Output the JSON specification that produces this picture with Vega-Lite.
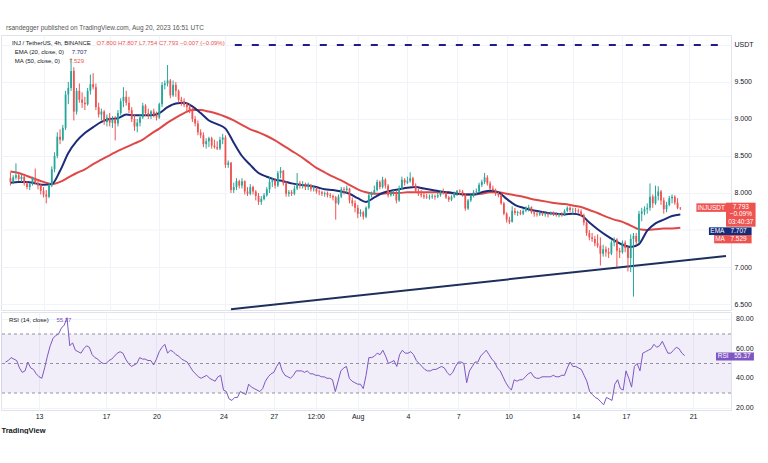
{
"$schema":"https://vega.github.io/schema/vega-lite/v6.json",
"background":"white",
"padding":{"top":25,"left":0,"right":0,"bottom":0},
"title":{"text":"rsandegger published on TradingView.com, Aug 20, 2023 16:51 UTC","anchor":"start","fontSize":6.5,"fontWeight":"normal","color":"#555555","offset":3,"dx":6,"font":"Liberation Sans"},
"config":{"view":{"stroke":"#e0e3eb"},"font":"Liberation Sans","concat":{"spacing":0},
"axis":{"domain":false,"ticks":false,"grid":true,"gridColor":"#f0f3fa","labelFont":"Liberation Sans","labelFontSize":7,"labelColor":"#131722","labelPadding":4,"labelOverlap":false,"labelFlush":false,"labelBound":false}},
"datasets":{
"candles":[
{"t":"2023-07-11T00:00","o":8.20,"h":8.28,"l":8.10,"c":8.15,"r":51},
{"t":"2023-07-11T04:00","o":8.15,"h":8.24,"l":8.12,"c":8.21,"r":52},
{"t":"2023-07-11T08:00","o":8.21,"h":8.40,"l":8.18,"c":8.24,"r":54},
{"t":"2023-07-11T12:00","o":8.24,"h":8.27,"l":8.16,"c":8.19,"r":53},
{"t":"2023-07-11T16:00","o":8.19,"h":8.25,"l":8.15,"c":8.22,"r":52},
{"t":"2023-07-11T20:00","o":8.22,"h":8.24,"l":8.10,"c":8.13,"r":47},
{"t":"2023-07-12T00:00","o":8.13,"h":8.16,"l":8.05,"c":8.08,"r":44},
{"t":"2023-07-12T04:00","o":8.08,"h":8.14,"l":8.04,"c":8.12,"r":45},
{"t":"2023-07-12T08:00","o":8.12,"h":8.22,"l":8.10,"c":8.20,"r":51},
{"t":"2023-07-12T12:00","o":8.20,"h":8.33,"l":8.12,"c":8.14,"r":47},
{"t":"2023-07-12T16:00","o":8.14,"h":8.18,"l":8.05,"c":8.10,"r":46},
{"t":"2023-07-12T20:00","o":8.10,"h":8.12,"l":7.98,"c":8.03,"r":43},
{"t":"2023-07-13T00:00","o":8.03,"h":8.08,"l":7.94,"c":7.98,"r":41},
{"t":"2023-07-13T04:00","o":7.98,"h":8.04,"l":7.86,"c":7.95,"r":40},
{"t":"2023-07-13T08:00","o":7.95,"h":8.14,"l":7.93,"c":8.10,"r":47},
{"t":"2023-07-13T12:00","o":8.10,"h":8.36,"l":8.08,"c":8.32,"r":55},
{"t":"2023-07-13T16:00","o":8.32,"h":8.55,"l":8.28,"c":8.50,"r":62},
{"t":"2023-07-13T20:00","o":8.50,"h":8.82,"l":8.47,"c":8.76,"r":67},
{"t":"2023-07-14T00:00","o":8.76,"h":8.86,"l":8.66,"c":8.72,"r":69},
{"t":"2023-07-14T04:00","o":8.72,"h":8.92,"l":8.70,"c":8.88,"r":70},
{"t":"2023-07-14T08:00","o":8.88,"h":9.38,"l":8.85,"c":9.33,"r":74},
{"t":"2023-07-14T12:00","o":9.33,"h":9.50,"l":9.20,"c":9.42,"r":76},
{"t":"2023-07-14T16:00","o":9.42,"h":9.82,"l":9.38,"c":9.65,"r":81},
{"t":"2023-07-14T20:00","o":9.65,"h":9.70,"l":8.98,"c":9.10,"r":62},
{"t":"2023-07-15T00:00","o":9.10,"h":9.42,"l":9.06,"c":9.38,"r":64},
{"t":"2023-07-15T04:00","o":9.38,"h":9.48,"l":9.22,"c":9.26,"r":59},
{"t":"2023-07-15T08:00","o":9.26,"h":9.36,"l":9.15,"c":9.22,"r":58},
{"t":"2023-07-15T12:00","o":9.22,"h":9.30,"l":9.12,"c":9.20,"r":57},
{"t":"2023-07-15T16:00","o":9.20,"h":9.42,"l":9.18,"c":9.38,"r":60},
{"t":"2023-07-15T20:00","o":9.38,"h":9.60,"l":9.33,"c":9.47,"r":62},
{"t":"2023-07-16T00:00","o":9.47,"h":9.62,"l":9.40,"c":9.43,"r":61},
{"t":"2023-07-16T04:00","o":9.43,"h":9.48,"l":9.12,"c":9.16,"r":56},
{"t":"2023-07-16T08:00","o":9.16,"h":9.22,"l":9.02,"c":9.06,"r":54},
{"t":"2023-07-16T12:00","o":9.06,"h":9.14,"l":8.98,"c":9.10,"r":53},
{"t":"2023-07-16T16:00","o":9.10,"h":9.12,"l":8.92,"c":8.96,"r":51},
{"t":"2023-07-16T20:00","o":8.96,"h":9.06,"l":8.90,"c":9.02,"r":50},
{"t":"2023-07-17T00:00","o":9.02,"h":9.08,"l":8.90,"c":8.95,"r":50},
{"t":"2023-07-17T04:00","o":8.95,"h":9.04,"l":8.88,"c":9.00,"r":52},
{"t":"2023-07-17T08:00","o":9.00,"h":9.04,"l":8.71,"c":8.94,"r":53},
{"t":"2023-07-17T12:00","o":8.94,"h":9.12,"l":8.90,"c":9.08,"r":55},
{"t":"2023-07-17T16:00","o":9.08,"h":9.28,"l":9.05,"c":9.24,"r":57},
{"t":"2023-07-17T20:00","o":9.24,"h":9.43,"l":9.16,"c":9.30,"r":58},
{"t":"2023-07-18T00:00","o":9.30,"h":9.38,"l":9.18,"c":9.22,"r":57},
{"t":"2023-07-18T04:00","o":9.22,"h":9.30,"l":9.08,"c":9.12,"r":53},
{"t":"2023-07-18T08:00","o":9.12,"h":9.16,"l":8.96,"c":9.00,"r":50},
{"t":"2023-07-18T12:00","o":9.00,"h":9.06,"l":8.84,"c":8.90,"r":48},
{"t":"2023-07-18T16:00","o":8.90,"h":9.00,"l":8.82,"c":8.95,"r":49},
{"t":"2023-07-18T20:00","o":8.95,"h":9.06,"l":8.90,"c":9.02,"r":50},
{"t":"2023-07-19T00:00","o":9.02,"h":9.22,"l":9.00,"c":9.18,"r":54},
{"t":"2023-07-19T04:00","o":9.18,"h":9.20,"l":9.04,"c":9.08,"r":53},
{"t":"2023-07-19T08:00","o":9.08,"h":9.14,"l":9.00,"c":9.05,"r":53},
{"t":"2023-07-19T12:00","o":9.05,"h":9.12,"l":9.00,"c":9.10,"r":52},
{"t":"2023-07-19T16:00","o":9.10,"h":9.14,"l":9.02,"c":9.06,"r":52},
{"t":"2023-07-19T20:00","o":9.06,"h":9.10,"l":8.98,"c":9.02,"r":49},
{"t":"2023-07-20T00:00","o":9.02,"h":9.22,"l":9.00,"c":9.20,"r":53},
{"t":"2023-07-20T04:00","o":9.20,"h":9.50,"l":9.16,"c":9.46,"r":58},
{"t":"2023-07-20T08:00","o":9.46,"h":9.52,"l":9.40,"c":9.48,"r":61},
{"t":"2023-07-20T12:00","o":9.48,"h":9.73,"l":9.44,"c":9.52,"r":63},
{"t":"2023-07-20T16:00","o":9.52,"h":9.54,"l":9.28,"c":9.32,"r":57},
{"t":"2023-07-20T20:00","o":9.32,"h":9.52,"l":9.30,"c":9.46,"r":59},
{"t":"2023-07-21T00:00","o":9.46,"h":9.50,"l":9.30,"c":9.38,"r":58},
{"t":"2023-07-21T04:00","o":9.38,"h":9.40,"l":9.22,"c":9.26,"r":56},
{"t":"2023-07-21T08:00","o":9.26,"h":9.30,"l":9.18,"c":9.24,"r":55},
{"t":"2023-07-21T12:00","o":9.24,"h":9.28,"l":9.16,"c":9.19,"r":53},
{"t":"2023-07-21T16:00","o":9.19,"h":9.22,"l":9.10,"c":9.16,"r":52},
{"t":"2023-07-21T20:00","o":9.16,"h":9.20,"l":9.08,"c":9.12,"r":51},
{"t":"2023-07-22T00:00","o":9.12,"h":9.16,"l":8.96,"c":9.00,"r":48},
{"t":"2023-07-22T04:00","o":9.00,"h":9.04,"l":8.90,"c":8.94,"r":45},
{"t":"2023-07-22T08:00","o":8.94,"h":8.98,"l":8.78,"c":8.82,"r":43},
{"t":"2023-07-22T12:00","o":8.82,"h":8.86,"l":8.74,"c":8.78,"r":41},
{"t":"2023-07-22T16:00","o":8.78,"h":8.82,"l":8.62,"c":8.66,"r":40},
{"t":"2023-07-22T20:00","o":8.66,"h":8.74,"l":8.60,"c":8.70,"r":41},
{"t":"2023-07-23T00:00","o":8.70,"h":8.76,"l":8.62,"c":8.74,"r":42},
{"t":"2023-07-23T04:00","o":8.74,"h":8.76,"l":8.60,"c":8.64,"r":40},
{"t":"2023-07-23T08:00","o":8.64,"h":8.72,"l":8.60,"c":8.62,"r":39},
{"t":"2023-07-23T12:00","o":8.62,"h":8.70,"l":8.58,"c":8.60,"r":38},
{"t":"2023-07-23T16:00","o":8.60,"h":8.76,"l":8.58,"c":8.72,"r":41},
{"t":"2023-07-23T20:00","o":8.72,"h":8.80,"l":8.66,"c":8.75,"r":42},
{"t":"2023-07-24T00:00","o":8.75,"h":8.78,"l":8.34,"c":8.38,"r":32},
{"t":"2023-07-24T04:00","o":8.38,"h":8.44,"l":8.34,"c":8.41,"r":31},
{"t":"2023-07-24T08:00","o":8.41,"h":8.42,"l":8.00,"c":8.04,"r":26},
{"t":"2023-07-24T12:00","o":8.04,"h":8.14,"l":8.00,"c":8.08,"r":25},
{"t":"2023-07-24T16:00","o":8.08,"h":8.20,"l":8.04,"c":8.16,"r":27},
{"t":"2023-07-24T20:00","o":8.16,"h":8.18,"l":8.06,"c":8.10,"r":27},
{"t":"2023-07-25T00:00","o":8.10,"h":8.20,"l":8.06,"c":8.16,"r":31},
{"t":"2023-07-25T04:00","o":8.16,"h":8.17,"l":7.98,"c":8.02,"r":30},
{"t":"2023-07-25T08:00","o":8.02,"h":8.08,"l":7.96,"c":7.99,"r":29},
{"t":"2023-07-25T12:00","o":7.99,"h":8.12,"l":7.97,"c":8.08,"r":36},
{"t":"2023-07-25T16:00","o":8.08,"h":8.10,"l":7.98,"c":8.02,"r":34},
{"t":"2023-07-25T20:00","o":8.02,"h":8.04,"l":7.90,"c":7.96,"r":33},
{"t":"2023-07-26T00:00","o":7.96,"h":8.00,"l":7.84,"c":7.88,"r":32},
{"t":"2023-07-26T04:00","o":7.88,"h":7.96,"l":7.84,"c":7.92,"r":31},
{"t":"2023-07-26T08:00","o":7.92,"h":8.00,"l":7.90,"c":7.97,"r":33},
{"t":"2023-07-26T12:00","o":7.97,"h":8.08,"l":7.95,"c":8.05,"r":38},
{"t":"2023-07-26T16:00","o":8.05,"h":8.22,"l":8.00,"c":8.15,"r":41},
{"t":"2023-07-26T20:00","o":8.15,"h":8.20,"l":8.08,"c":8.17,"r":43},
{"t":"2023-07-27T00:00","o":8.17,"h":8.20,"l":8.06,"c":8.10,"r":44},
{"t":"2023-07-27T04:00","o":8.10,"h":8.30,"l":8.08,"c":8.27,"r":48},
{"t":"2023-07-27T08:00","o":8.27,"h":8.35,"l":8.20,"c":8.30,"r":51},
{"t":"2023-07-27T12:00","o":8.30,"h":8.31,"l":8.10,"c":8.13,"r":45},
{"t":"2023-07-27T16:00","o":8.13,"h":8.16,"l":7.95,"c":7.99,"r":42},
{"t":"2023-07-27T20:00","o":7.99,"h":8.04,"l":7.95,"c":8.01,"r":41},
{"t":"2023-07-28T00:00","o":8.01,"h":8.04,"l":7.96,"c":7.99,"r":40},
{"t":"2023-07-28T04:00","o":7.99,"h":8.10,"l":7.97,"c":8.06,"r":42},
{"t":"2023-07-28T08:00","o":8.06,"h":8.27,"l":8.04,"c":8.13,"r":45},
{"t":"2023-07-28T12:00","o":8.13,"h":8.16,"l":8.06,"c":8.10,"r":45},
{"t":"2023-07-28T16:00","o":8.10,"h":8.16,"l":8.06,"c":8.12,"r":45},
{"t":"2023-07-28T20:00","o":8.12,"h":8.14,"l":8.04,"c":8.08,"r":44},
{"t":"2023-07-29T00:00","o":8.08,"h":8.14,"l":8.04,"c":8.11,"r":45},
{"t":"2023-07-29T04:00","o":8.11,"h":8.12,"l":8.02,"c":8.05,"r":43},
{"t":"2023-07-29T08:00","o":8.05,"h":8.10,"l":8.02,"c":8.06,"r":43},
{"t":"2023-07-29T12:00","o":8.06,"h":8.08,"l":7.99,"c":8.02,"r":42},
{"t":"2023-07-29T16:00","o":8.02,"h":8.05,"l":7.97,"c":8.01,"r":42},
{"t":"2023-07-29T20:00","o":8.01,"h":8.03,"l":7.96,"c":7.99,"r":41},
{"t":"2023-07-30T00:00","o":7.99,"h":8.02,"l":7.95,"c":8.00,"r":41},
{"t":"2023-07-30T04:00","o":8.00,"h":8.02,"l":7.94,"c":7.97,"r":40},
{"t":"2023-07-30T08:00","o":7.97,"h":8.00,"l":7.93,"c":7.96,"r":40},
{"t":"2023-07-30T12:00","o":7.96,"h":7.98,"l":7.90,"c":7.94,"r":39},
{"t":"2023-07-30T16:00","o":7.94,"h":7.96,"l":7.64,"c":7.86,"r":31},
{"t":"2023-07-30T20:00","o":7.86,"h":7.98,"l":7.84,"c":7.95,"r":38},
{"t":"2023-07-31T00:00","o":7.95,"h":8.08,"l":7.93,"c":8.05,"r":45},
{"t":"2023-07-31T04:00","o":8.05,"h":8.08,"l":7.98,"c":8.04,"r":47},
{"t":"2023-07-31T08:00","o":8.04,"h":8.10,"l":8.00,"c":8.06,"r":48},
{"t":"2023-07-31T12:00","o":8.06,"h":8.07,"l":7.86,"c":7.90,"r":40},
{"t":"2023-07-31T16:00","o":7.90,"h":7.94,"l":7.82,"c":7.86,"r":38},
{"t":"2023-07-31T20:00","o":7.86,"h":7.90,"l":7.74,"c":7.80,"r":37},
{"t":"2023-08-01T00:00","o":7.80,"h":7.84,"l":7.66,"c":7.72,"r":36},
{"t":"2023-08-01T04:00","o":7.72,"h":7.78,"l":7.68,"c":7.74,"r":36},
{"t":"2023-08-01T08:00","o":7.74,"h":7.76,"l":7.64,"c":7.68,"r":33},
{"t":"2023-08-01T12:00","o":7.68,"h":7.82,"l":7.66,"c":7.80,"r":42},
{"t":"2023-08-01T16:00","o":7.80,"h":8.00,"l":7.78,"c":7.97,"r":54},
{"t":"2023-08-01T20:00","o":7.97,"h":8.02,"l":7.94,"c":8.00,"r":54},
{"t":"2023-08-02T00:00","o":8.00,"h":8.10,"l":7.98,"c":8.04,"r":55},
{"t":"2023-08-02T04:00","o":8.04,"h":8.18,"l":8.02,"c":8.15,"r":57},
{"t":"2023-08-02T08:00","o":8.15,"h":8.17,"l":8.05,"c":8.08,"r":56},
{"t":"2023-08-02T12:00","o":8.08,"h":8.22,"l":8.06,"c":8.18,"r":59},
{"t":"2023-08-02T16:00","o":8.18,"h":8.20,"l":8.06,"c":8.10,"r":55},
{"t":"2023-08-02T20:00","o":8.10,"h":8.12,"l":7.94,"c":7.97,"r":50},
{"t":"2023-08-03T00:00","o":7.97,"h":8.02,"l":7.95,"c":8.00,"r":51},
{"t":"2023-08-03T04:00","o":8.00,"h":8.04,"l":7.96,"c":8.01,"r":52},
{"t":"2023-08-03T08:00","o":8.01,"h":8.03,"l":7.86,"c":7.90,"r":48},
{"t":"2023-08-03T12:00","o":7.90,"h":8.10,"l":7.88,"c":8.06,"r":56},
{"t":"2023-08-03T16:00","o":8.06,"h":8.22,"l":8.04,"c":8.18,"r":59},
{"t":"2023-08-03T20:00","o":8.18,"h":8.20,"l":8.10,"c":8.14,"r":57},
{"t":"2023-08-04T00:00","o":8.14,"h":8.22,"l":8.12,"c":8.16,"r":57},
{"t":"2023-08-04T04:00","o":8.16,"h":8.28,"l":8.14,"c":8.20,"r":58},
{"t":"2023-08-04T08:00","o":8.20,"h":8.22,"l":8.08,"c":8.10,"r":56},
{"t":"2023-08-04T12:00","o":8.10,"h":8.13,"l":8.00,"c":8.03,"r":52},
{"t":"2023-08-04T16:00","o":8.03,"h":8.06,"l":7.96,"c":7.99,"r":50},
{"t":"2023-08-04T20:00","o":7.99,"h":8.04,"l":7.94,"c":7.97,"r":48},
{"t":"2023-08-05T00:00","o":7.97,"h":8.00,"l":7.92,"c":7.95,"r":46},
{"t":"2023-08-05T04:00","o":7.95,"h":7.99,"l":7.92,"c":7.94,"r":45},
{"t":"2023-08-05T08:00","o":7.94,"h":7.98,"l":7.91,"c":7.95,"r":45},
{"t":"2023-08-05T12:00","o":7.95,"h":7.99,"l":7.92,"c":7.96,"r":46},
{"t":"2023-08-05T16:00","o":7.96,"h":7.98,"l":7.91,"c":7.95,"r":46},
{"t":"2023-08-05T20:00","o":7.95,"h":8.00,"l":7.93,"c":7.97,"r":47},
{"t":"2023-08-06T00:00","o":7.97,"h":8.04,"l":7.95,"c":8.01,"r":48},
{"t":"2023-08-06T04:00","o":8.01,"h":8.06,"l":7.98,"c":8.00,"r":47},
{"t":"2023-08-06T08:00","o":8.00,"h":8.02,"l":7.92,"c":7.94,"r":44},
{"t":"2023-08-06T12:00","o":7.94,"h":7.96,"l":7.88,"c":7.91,"r":42},
{"t":"2023-08-06T16:00","o":7.91,"h":7.97,"l":7.89,"c":7.95,"r":44},
{"t":"2023-08-06T20:00","o":7.95,"h":8.02,"l":7.93,"c":8.00,"r":48},
{"t":"2023-08-07T00:00","o":8.00,"h":8.04,"l":7.96,"c":8.03,"r":51},
{"t":"2023-08-07T04:00","o":8.03,"h":8.05,"l":7.97,"c":8.02,"r":51},
{"t":"2023-08-07T08:00","o":8.02,"h":8.04,"l":7.95,"c":7.98,"r":50},
{"t":"2023-08-07T12:00","o":7.98,"h":8.00,"l":7.76,"c":7.79,"r":37},
{"t":"2023-08-07T16:00","o":7.79,"h":7.92,"l":7.77,"c":7.90,"r":45},
{"t":"2023-08-07T20:00","o":7.90,"h":7.98,"l":7.88,"c":7.96,"r":48},
{"t":"2023-08-08T00:00","o":7.96,"h":8.04,"l":7.94,"c":8.01,"r":51},
{"t":"2023-08-08T04:00","o":8.01,"h":8.06,"l":7.98,"c":8.02,"r":51},
{"t":"2023-08-08T08:00","o":8.02,"h":8.14,"l":8.00,"c":8.11,"r":55},
{"t":"2023-08-08T12:00","o":8.11,"h":8.18,"l":8.08,"c":8.15,"r":57},
{"t":"2023-08-08T16:00","o":8.15,"h":8.27,"l":8.12,"c":8.21,"r":59},
{"t":"2023-08-08T20:00","o":8.21,"h":8.24,"l":8.10,"c":8.13,"r":56},
{"t":"2023-08-09T00:00","o":8.13,"h":8.16,"l":8.04,"c":8.06,"r":53},
{"t":"2023-08-09T04:00","o":8.06,"h":8.10,"l":8.02,"c":8.04,"r":51},
{"t":"2023-08-09T08:00","o":8.04,"h":8.06,"l":7.96,"c":7.99,"r":47},
{"t":"2023-08-09T12:00","o":7.99,"h":8.02,"l":7.94,"c":7.97,"r":45},
{"t":"2023-08-09T16:00","o":7.97,"h":7.99,"l":7.84,"c":7.86,"r":41},
{"t":"2023-08-09T20:00","o":7.86,"h":7.88,"l":7.70,"c":7.72,"r":37},
{"t":"2023-08-10T00:00","o":7.72,"h":7.74,"l":7.60,"c":7.64,"r":34},
{"t":"2023-08-10T04:00","o":7.64,"h":7.68,"l":7.58,"c":7.61,"r":32},
{"t":"2023-08-10T08:00","o":7.61,"h":7.82,"l":7.60,"c":7.76,"r":39},
{"t":"2023-08-10T12:00","o":7.76,"h":7.80,"l":7.70,"c":7.73,"r":38},
{"t":"2023-08-10T16:00","o":7.73,"h":7.76,"l":7.69,"c":7.74,"r":39},
{"t":"2023-08-10T20:00","o":7.74,"h":7.77,"l":7.70,"c":7.72,"r":39},
{"t":"2023-08-11T00:00","o":7.72,"h":7.78,"l":7.70,"c":7.76,"r":41},
{"t":"2023-08-11T04:00","o":7.76,"h":7.82,"l":7.74,"c":7.80,"r":43},
{"t":"2023-08-11T08:00","o":7.80,"h":7.84,"l":7.75,"c":7.81,"r":44},
{"t":"2023-08-11T12:00","o":7.81,"h":7.82,"l":7.72,"c":7.74,"r":41},
{"t":"2023-08-11T16:00","o":7.74,"h":7.76,"l":7.68,"c":7.72,"r":40},
{"t":"2023-08-11T20:00","o":7.72,"h":7.75,"l":7.68,"c":7.71,"r":40},
{"t":"2023-08-12T00:00","o":7.71,"h":7.75,"l":7.69,"c":7.73,"r":41},
{"t":"2023-08-12T04:00","o":7.73,"h":7.75,"l":7.69,"c":7.71,"r":41},
{"t":"2023-08-12T08:00","o":7.71,"h":7.74,"l":7.68,"c":7.72,"r":41},
{"t":"2023-08-12T12:00","o":7.72,"h":7.74,"l":7.67,"c":7.71,"r":41},
{"t":"2023-08-12T16:00","o":7.71,"h":7.75,"l":7.70,"c":7.73,"r":42},
{"t":"2023-08-12T20:00","o":7.73,"h":7.75,"l":7.69,"c":7.71,"r":41},
{"t":"2023-08-13T00:00","o":7.71,"h":7.74,"l":7.68,"c":7.70,"r":41},
{"t":"2023-08-13T04:00","o":7.70,"h":7.73,"l":7.67,"c":7.72,"r":42},
{"t":"2023-08-13T08:00","o":7.72,"h":7.74,"l":7.68,"c":7.71,"r":42},
{"t":"2023-08-13T12:00","o":7.71,"h":7.78,"l":7.69,"c":7.76,"r":47},
{"t":"2023-08-13T16:00","o":7.76,"h":7.82,"l":7.74,"c":7.80,"r":51},
{"t":"2023-08-13T20:00","o":7.80,"h":7.82,"l":7.74,"c":7.77,"r":48},
{"t":"2023-08-14T00:00","o":7.77,"h":7.80,"l":7.72,"c":7.77,"r":48},
{"t":"2023-08-14T04:00","o":7.77,"h":7.80,"l":7.73,"c":7.76,"r":47},
{"t":"2023-08-14T08:00","o":7.76,"h":7.79,"l":7.72,"c":7.75,"r":46},
{"t":"2023-08-14T12:00","o":7.75,"h":7.78,"l":7.68,"c":7.70,"r":42},
{"t":"2023-08-14T16:00","o":7.70,"h":7.72,"l":7.56,"c":7.60,"r":38},
{"t":"2023-08-14T20:00","o":7.60,"h":7.62,"l":7.42,"c":7.46,"r":31},
{"t":"2023-08-15T00:00","o":7.46,"h":7.50,"l":7.36,"c":7.40,"r":29},
{"t":"2023-08-15T04:00","o":7.40,"h":7.46,"l":7.34,"c":7.38,"r":27},
{"t":"2023-08-15T08:00","o":7.38,"h":7.42,"l":7.28,"c":7.32,"r":26},
{"t":"2023-08-15T12:00","o":7.32,"h":7.44,"l":7.26,"c":7.29,"r":24},
{"t":"2023-08-15T16:00","o":7.29,"h":7.40,"l":7.02,"c":7.18,"r":22},
{"t":"2023-08-15T20:00","o":7.18,"h":7.30,"l":7.14,"c":7.24,"r":27},
{"t":"2023-08-16T00:00","o":7.24,"h":7.28,"l":7.14,"c":7.20,"r":26},
{"t":"2023-08-16T04:00","o":7.20,"h":7.26,"l":7.12,"c":7.18,"r":25},
{"t":"2023-08-16T08:00","o":7.18,"h":7.36,"l":7.16,"c":7.33,"r":36},
{"t":"2023-08-16T12:00","o":7.33,"h":7.40,"l":7.28,"c":7.37,"r":39},
{"t":"2023-08-16T16:00","o":7.37,"h":7.39,"l":7.00,"c":7.22,"r":33},
{"t":"2023-08-16T20:00","o":7.22,"h":7.26,"l":7.12,"c":7.20,"r":32},
{"t":"2023-08-17T00:00","o":7.20,"h":7.36,"l":7.18,"c":7.33,"r":45},
{"t":"2023-08-17T04:00","o":7.33,"h":7.36,"l":7.20,"c":7.26,"r":40},
{"t":"2023-08-17T08:00","o":7.26,"h":7.28,"l":6.94,"c":7.12,"r":34},
{"t":"2023-08-17T12:00","o":7.12,"h":7.44,"l":6.93,"c":7.38,"r":48},
{"t":"2023-08-17T16:00","o":7.38,"h":7.46,"l":6.60,"c":7.42,"r":50},
{"t":"2023-08-17T20:00","o":7.42,"h":7.46,"l":7.30,"c":7.34,"r":45},
{"t":"2023-08-18T00:00","o":7.34,"h":7.76,"l":7.32,"c":7.72,"r":57},
{"t":"2023-08-18T04:00","o":7.72,"h":7.80,"l":7.62,"c":7.75,"r":58},
{"t":"2023-08-18T08:00","o":7.75,"h":7.82,"l":7.70,"c":7.78,"r":59},
{"t":"2023-08-18T12:00","o":7.78,"h":7.86,"l":7.72,"c":7.80,"r":60},
{"t":"2023-08-18T16:00","o":7.80,"h":8.13,"l":7.76,"c":7.95,"r":63},
{"t":"2023-08-18T20:00","o":7.95,"h":7.98,"l":7.80,"c":7.86,"r":61},
{"t":"2023-08-19T00:00","o":7.86,"h":8.10,"l":7.84,"c":7.96,"r":62},
{"t":"2023-08-19T04:00","o":7.96,"h":8.09,"l":7.90,"c":8.02,"r":65},
{"t":"2023-08-19T08:00","o":8.02,"h":8.04,"l":7.84,"c":7.90,"r":61},
{"t":"2023-08-19T12:00","o":7.90,"h":7.94,"l":7.72,"c":7.78,"r":57},
{"t":"2023-08-19T16:00","o":7.78,"h":7.88,"l":7.74,"c":7.84,"r":57},
{"t":"2023-08-19T20:00","o":7.84,"h":7.96,"l":7.82,"c":7.93,"r":59},
{"t":"2023-08-20T00:00","o":7.93,"h":7.98,"l":7.86,"c":7.95,"r":61},
{"t":"2023-08-20T04:00","o":7.95,"h":7.97,"l":7.84,"c":7.87,"r":60},
{"t":"2023-08-20T08:00","o":7.87,"h":7.93,"l":7.78,"c":7.80,"r":57},
{"t":"2023-08-20T12:00","o":7.80,"h":7.81,"l":7.77,"c":7.793,"r":55.37}
],
"ma":[
{"t":"2023-07-11T00:00","e":8.14,"s":8.29},{"t":"2023-07-11T12:00","e":8.15,"s":8.27},
{"t":"2023-07-12T00:00","e":8.15,"s":8.23},{"t":"2023-07-12T12:00","e":8.13,"s":8.19},
{"t":"2023-07-13T00:00","e":8.11,"s":8.15},{"t":"2023-07-13T12:00","e":8.12,"s":8.12},
{"t":"2023-07-14T00:00","e":8.30,"s":8.15},{"t":"2023-07-14T12:00","e":8.54,"s":8.21},
{"t":"2023-07-15T00:00","e":8.70,"s":8.27},{"t":"2023-07-15T12:00","e":8.81,"s":8.32},
{"t":"2023-07-16T00:00","e":8.89,"s":8.39},{"t":"2023-07-16T12:00","e":8.96,"s":8.45},
{"t":"2023-07-17T00:00","e":9.00,"s":8.51},{"t":"2023-07-17T12:00","e":9.01,"s":8.57},
{"t":"2023-07-18T00:00","e":9.06,"s":8.62},{"t":"2023-07-18T12:00","e":9.05,"s":8.67},
{"t":"2023-07-19T00:00","e":9.05,"s":8.72},{"t":"2023-07-19T12:00","e":9.05,"s":8.80},
{"t":"2023-07-20T00:00","e":9.08,"s":8.87},{"t":"2023-07-20T12:00","e":9.16,"s":8.95},
{"t":"2023-07-21T00:00","e":9.21,"s":9.02},{"t":"2023-07-21T12:00","e":9.22,"s":9.08},
{"t":"2023-07-22T00:00","e":9.17,"s":9.12},{"t":"2023-07-22T12:00","e":9.08,"s":9.12},
{"t":"2023-07-23T00:00","e":8.98,"s":9.10},{"t":"2023-07-23T12:00","e":8.93,"s":9.07},
{"t":"2023-07-24T00:00","e":8.87,"s":9.03},{"t":"2023-07-24T12:00","e":8.68,"s":8.98},
{"t":"2023-07-25T00:00","e":8.50,"s":8.92},{"t":"2023-07-25T12:00","e":8.38,"s":8.86},
{"t":"2023-07-26T00:00","e":8.27,"s":8.82},{"t":"2023-07-26T12:00","e":8.22,"s":8.77},
{"t":"2023-07-27T00:00","e":8.18,"s":8.71},{"t":"2023-07-27T12:00","e":8.16,"s":8.64},
{"t":"2023-07-28T00:00","e":8.13,"s":8.57},{"t":"2023-07-28T12:00","e":8.11,"s":8.50},
{"t":"2023-07-29T00:00","e":8.10,"s":8.42},{"t":"2023-07-29T12:00","e":8.08,"s":8.34},
{"t":"2023-07-30T00:00","e":8.05,"s":8.28},{"t":"2023-07-30T12:00","e":8.04,"s":8.22},
{"t":"2023-07-31T00:00","e":8.02,"s":8.17},{"t":"2023-07-31T12:00","e":7.99,"s":8.11},
{"t":"2023-08-01T00:00","e":7.93,"s":8.05},{"t":"2023-08-01T12:00","e":7.88,"s":8.01},
{"t":"2023-08-02T00:00","e":7.94,"s":7.99},{"t":"2023-08-02T12:00","e":8.00,"s":7.99},
{"t":"2023-08-03T00:00","e":8.03,"s":8.00},{"t":"2023-08-03T12:00","e":8.05,"s":8.00},
{"t":"2023-08-04T00:00","e":8.07,"s":8.01},{"t":"2023-08-04T12:00","e":8.08,"s":8.01},
{"t":"2023-08-05T00:00","e":8.06,"s":8.01},{"t":"2023-08-05T12:00","e":8.04,"s":8.01},
{"t":"2023-08-06T00:00","e":8.02,"s":8.01},{"t":"2023-08-06T12:00","e":8.01,"s":8.00},
{"t":"2023-08-07T00:00","e":7.99,"s":7.99},{"t":"2023-08-07T12:00","e":7.98,"s":7.98},
{"t":"2023-08-08T00:00","e":7.98,"s":7.98},{"t":"2023-08-08T12:00","e":8.01,"s":7.99},
{"t":"2023-08-09T00:00","e":8.03,"s":8.01},{"t":"2023-08-09T12:00","e":8.01,"s":8.01},
{"t":"2023-08-10T00:00","e":7.92,"s":7.99},{"t":"2023-08-10T12:00","e":7.84,"s":7.97},
{"t":"2023-08-11T00:00","e":7.80,"s":7.95},{"t":"2023-08-11T12:00","e":7.77,"s":7.92},
{"t":"2023-08-12T00:00","e":7.75,"s":7.90},{"t":"2023-08-12T12:00","e":7.73,"s":7.88},
{"t":"2023-08-13T00:00","e":7.72,"s":7.86},{"t":"2023-08-13T12:00","e":7.71,"s":7.85},
{"t":"2023-08-14T00:00","e":7.72,"s":7.83},{"t":"2023-08-14T12:00","e":7.70,"s":7.81},
{"t":"2023-08-15T00:00","e":7.60,"s":7.77},{"t":"2023-08-15T12:00","e":7.51,"s":7.73},
{"t":"2023-08-16T00:00","e":7.43,"s":7.68},{"t":"2023-08-16T12:00","e":7.36,"s":7.64},
{"t":"2023-08-17T00:00","e":7.30,"s":7.61},{"t":"2023-08-17T12:00","e":7.27,"s":7.56},
{"t":"2023-08-18T00:00","e":7.31,"s":7.51},{"t":"2023-08-18T12:00","e":7.49,"s":7.50},
{"t":"2023-08-19T00:00","e":7.59,"s":7.51},{"t":"2023-08-19T12:00","e":7.64,"s":7.52},
{"t":"2023-08-20T00:00","e":7.69,"s":7.52},{"t":"2023-08-20T12:00","e":7.71,"s":7.53}
]
},
"vconcat":[
{
"width":730,"height":275,
"layer":[
{"data":{"values":[{"t1":"2023-07-24T13:35","t2":"2023-08-23T06:17","p":10.0}],"format":{"parse":{"t1":"date","t2":"date"}}},
 "mark":{"type":"rule","color":"#1f1b8a","strokeWidth":2,"strokeDash":[7,10]},
 "encoding":{
  "x":{"field":"t1","type":"temporal","title":null,"scale":{"domain":[{"year":2023,"month":7,"date":10,"hours":17,"minutes":34},{"year":2023,"month":8,"date":23,"hours":6,"minutes":17}]},
   "axis":{"values":[{"year":2023,"month":7,"date":13},{"year":2023,"month":7,"date":17},{"year":2023,"month":7,"date":20},{"year":2023,"month":7,"date":24},{"year":2023,"month":7,"date":27},{"year":2023,"month":7,"date":29,"hours":12},{"year":2023,"month":8,"date":1},{"year":2023,"month":8,"date":4},{"year":2023,"month":8,"date":7},{"year":2023,"month":8,"date":10},{"year":2023,"month":8,"date":14},{"year":2023,"month":8,"date":17},{"year":2023,"month":8,"date":21}],"labels":false,"title":null}},
  "x2":{"field":"t2"},
  "y":{"field":"p","type":"quantitative","title":null,"scale":{"domain":[6.419,10.135],"zero":false,"nice":false},
   "axis":{"orient":"right","values":[6.5,7,8,8.5,9,9.5,10],"labelExpr":"datum.value == 10 ? 'USDT' : format(datum.value, '.3f')","labelPadding":3,"title":null}}
 }},
{"data":{"values":[{"g":7.5}]},"mark":{"type":"rule","color":"#f0f3fa","strokeWidth":1},
 "encoding":{"y":{"field":"g","type":"quantitative","title":null}}},
{"data":{"values":[{"t1":"2023-07-24T08:00","p1":6.43,"t2":"2023-08-23T06:17","p2":7.15}],"format":{"parse":{"t1":"date","t2":"date"}}},
 "mark":{"type":"rule","color":"#1f2f5c","strokeWidth":2},
 "encoding":{"x":{"field":"t1","type":"temporal","title":null},"x2":{"field":"t2"},"y":{"field":"p1","type":"quantitative","title":null},"y2":{"field":"p2"}}},
{"data":{"name":"ma"},"mark":{"type":"line","color":"#e04848","strokeWidth":2,"interpolate":"monotone"},
 "encoding":{"x":{"field":"t","type":"temporal","title":null},"y":{"field":"s","type":"quantitative","title":null}}},
{"data":{"name":"ma"},"mark":{"type":"line","color":"#1c2c78","strokeWidth":2,"interpolate":"monotone"},
 "encoding":{"x":{"field":"t","type":"temporal","title":null},"y":{"field":"e","type":"quantitative","title":null}}},
{"data":{"name":"candles"},"mark":{"type":"rule","strokeWidth":1},
 "encoding":{"x":{"field":"t","type":"temporal","title":null},"y":{"field":"l","type":"quantitative","title":null},"y2":{"field":"h"},
  "color":{"condition":{"test":"datum.c >= datum.o","value":"#26a69a"},"value":"#ef5350"}}},
{"data":{"name":"candles"},"mark":{"type":"bar","size":1.8},
 "encoding":{"x":{"field":"t","type":"temporal","title":null},"y":{"field":"o","type":"quantitative","title":null},"y2":{"field":"c"},
  "color":{"condition":{"test":"datum.c >= datum.o","value":"#26a69a"},"value":"#ef5350"}}},
{"data":{"values":[{"t":"2023-07-11T02:09","p":10.023,"label":"INJ / TetherUS, 4h, BINANCE"},{"t":"2023-07-11T06:26","p":9.899,"label":"EMA (20, close, 0)"},{"t":"2023-07-11T06:26","p":9.788,"label":"MA (50, close, 0)"}],"format":{"parse":{"t":"date"}}},
 "mark":{"type":"text","align":"left","baseline":"middle","fontSize":6,"color":"#131722"},
 "encoding":{"x":{"field":"t","type":"temporal","title":null},"y":{"field":"p","type":"quantitative","title":null},"text":{"field":"label"}}},
{"data":{"values":[{"t":"2023-07-16T05:00","p":10.023,"label":"O7.800 H7.807 L7.754 C7.793 −0.007 (−0.09%)"},{"t":"2023-07-14T13:00","p":9.788,"label":"7.529"}],"format":{"parse":{"t":"date"}}},
 "mark":{"type":"text","align":"left","baseline":"middle","fontSize":6,"color":"#ef5350"},
 "encoding":{"x":{"field":"t","type":"temporal","title":null},"y":{"field":"p","type":"quantitative","title":null},"text":{"field":"label"}}},
{"data":{"values":[{"t":"2023-07-14T17:00","p":9.899,"label":"7.707"}],"format":{"parse":{"t":"date"}}},
 "mark":{"type":"text","align":"left","baseline":"middle","fontSize":6,"color":"#1c2c78"},
 "encoding":{"x":{"field":"t","type":"temporal","title":null},"y":{"field":"p","type":"quantitative","title":null},"text":{"field":"label"}}},
{"data":{"values":[{"t1":"2023-08-21T11:21","t2":"2023-08-23T06:17","p1":7.86,"p2":7.745},{"t1":"2023-08-23T06:17","t2":"2023-08-25T01:12","p1":7.869,"p2":7.545},{"t1":"2023-08-22T13:06","t2":"2023-08-23T06:17","p1":7.432,"p2":7.32},{"t1":"2023-08-23T06:17","t2":"2023-08-24T19:26","p1":7.432,"p2":7.32}],"format":{"parse":{"t1":"date","t2":"date"}}},
 "mark":{"type":"rect","color":"#ef5350"},
 "encoding":{"x":{"field":"t1","type":"temporal","title":null},"x2":{"field":"t2"},"y":{"field":"p1","type":"quantitative","title":null},"y2":{"field":"p2"}}},
{"data":{"values":[{"t1":"2023-08-22T05:31","t2":"2023-08-23T06:17","p1":7.536,"p2":7.432},{"t1":"2023-08-23T06:17","t2":"2023-08-24T19:26","p1":7.536,"p2":7.432}],"format":{"parse":{"t1":"date","t2":"date"}}},
 "mark":{"type":"rect","color":"#152c7a"},
 "encoding":{"x":{"field":"t1","type":"temporal","title":null},"x2":{"field":"t2"},"y":{"field":"p1","type":"quantitative","title":null},"y2":{"field":"p2"}}},
{"data":{"values":[{"t":"2023-08-22T08:49","p":7.80,"label":"INJUSDT"},{"t":"2023-08-24T03:45","p":7.815,"label":"7.793"},{"t":"2023-08-24T03:45","p":7.716,"label":"−0.09%"},{"t":"2023-08-24T03:45","p":7.612,"label":"03:40:37"},{"t":"2023-08-22T17:46","p":7.484,"label":"EMA"},{"t":"2023-08-24T00:30","p":7.484,"label":"7.707"},{"t":"2023-08-22T21:36","p":7.376,"label":"MA"},{"t":"2023-08-24T00:30","p":7.376,"label":"7.529"}],"format":{"parse":{"t":"date"}}},
 "mark":{"type":"text","align":"center","baseline":"middle","fontSize":6.5,"color":"white"},
 "encoding":{"x":{"field":"t","type":"temporal","title":null},"y":{"field":"p","type":"quantitative","title":null},"text":{"field":"label"}}}
]
},
{
"width":730,"height":98,
"layer":[
{"data":{"name":"candles"},"mark":{"type":"line","color":"#7e57c2","strokeWidth":1},
 "encoding":{
  "x":{"field":"t","type":"temporal","scale":{"domain":[{"year":2023,"month":7,"date":10,"hours":17,"minutes":34},{"year":2023,"month":8,"date":23,"hours":6,"minutes":17}]},
   "axis":{"values":[{"year":2023,"month":7,"date":13},{"year":2023,"month":7,"date":17},{"year":2023,"month":7,"date":20},{"year":2023,"month":7,"date":24},{"year":2023,"month":7,"date":27},{"year":2023,"month":7,"date":29,"hours":12},{"year":2023,"month":8,"date":1},{"year":2023,"month":8,"date":4},{"year":2023,"month":8,"date":7},{"year":2023,"month":8,"date":10},{"year":2023,"month":8,"date":14},{"year":2023,"month":8,"date":17},{"year":2023,"month":8,"date":21}],
   "labelExpr":"hours(datum.value) == 12 ? '12:00' : (date(datum.value) == 1 ? 'Aug' : '' + date(datum.value))",
   "labelPadding":2,
   "title":"TradingView","titleAnchor":"start","titleAlign":"left","titleFontSize":7.5,"titleFontWeight":"bold","titleColor":"#131722","titlePadding":7}},
  "y":{"field":"r","type":"quantitative","title":null,"scale":{"domain":[18.5,84.9],"zero":false,"nice":false},"axis":{"orient":"right","values":[20,40,60,80],"labels":false,"title":null}}}},
{"data":{"values":[{"t1":"2023-07-10T17:34","t2":"2023-08-23T06:17","lo":30,"hi":70}],"format":{"parse":{"t1":"date","t2":"date"}}},"mark":{"type":"rect","color":"#7e57c2","opacity":0.1},
 "encoding":{"x":{"field":"t1","type":"temporal"},"x2":{"field":"t2"},"y":{"field":"hi","type":"quantitative","title":null},"y2":{"field":"lo"}}},
{"data":{"values":[{"v":70},{"v":50},{"v":30}]},"mark":{"type":"rule","color":"#787b86","strokeDash":[3,3],"strokeWidth":1,"opacity":0.8},
 "encoding":{"y":{"field":"v","type":"quantitative","title":null}}},
{"data":{"values":[{"t":"2023-08-23T13:30","v":80,"label":"80.00"},{"t":"2023-08-23T13:30","v":60,"label":"60.00"},{"t":"2023-08-23T13:30","v":40,"label":"40.00"},{"t":"2023-08-23T13:30","v":20,"label":"20.00"}],"format":{"parse":{"t":"date"}}},
 "mark":{"type":"text","align":"left","baseline":"middle","fontSize":7,"color":"#131722"},
 "encoding":{"x":{"field":"t","type":"temporal"},"y":{"field":"v","type":"quantitative","title":null},"text":{"field":"label"}}},
{"data":{"values":[{"t":"2023-07-11T05:00","v":79.3,"label":"RSI (14, close)"}],"format":{"parse":{"t":"date"}}},
 "mark":{"type":"text","align":"left","baseline":"middle","fontSize":6,"color":"#131722"},
 "encoding":{"x":{"field":"t","type":"temporal"},"y":{"field":"v","type":"quantitative","title":null},"text":{"field":"label"}}},
{"data":{"values":[{"t":"2023-07-14T00:50","v":79.3,"label":"55.37"}],"format":{"parse":{"t":"date"}}},
 "mark":{"type":"text","align":"left","baseline":"middle","fontSize":6,"color":"#7e57c2"},
 "encoding":{"x":{"field":"t","type":"temporal"},"y":{"field":"v","type":"quantitative","title":null},"text":{"field":"label"}}},
{"data":{"values":[{"t1":"2023-08-22T08:48","t2":"2023-08-24T15:07","v1":57.5,"v2":52.0}],"format":{"parse":{"t1":"date","t2":"date"}}},
 "mark":{"type":"rect","color":"#7e57c2"},
 "encoding":{"x":{"field":"t1","type":"temporal"},"x2":{"field":"t2"},"y":{"field":"v1","type":"quantitative","title":null},"y2":{"field":"v2"}}},
{"data":{"values":[{"t":"2023-08-22T19:12","v":54.75,"label":"RSI"},{"t":"2023-08-23T22:34","v":54.75,"label":"55.37"}],"format":{"parse":{"t":"date"}}},
 "mark":{"type":"text","align":"center","baseline":"middle","fontSize":6.5,"color":"white"},
 "encoding":{"x":{"field":"t","type":"temporal"},"y":{"field":"v","type":"quantitative","title":null},"text":{"field":"label"}}}
]
}
]
}
